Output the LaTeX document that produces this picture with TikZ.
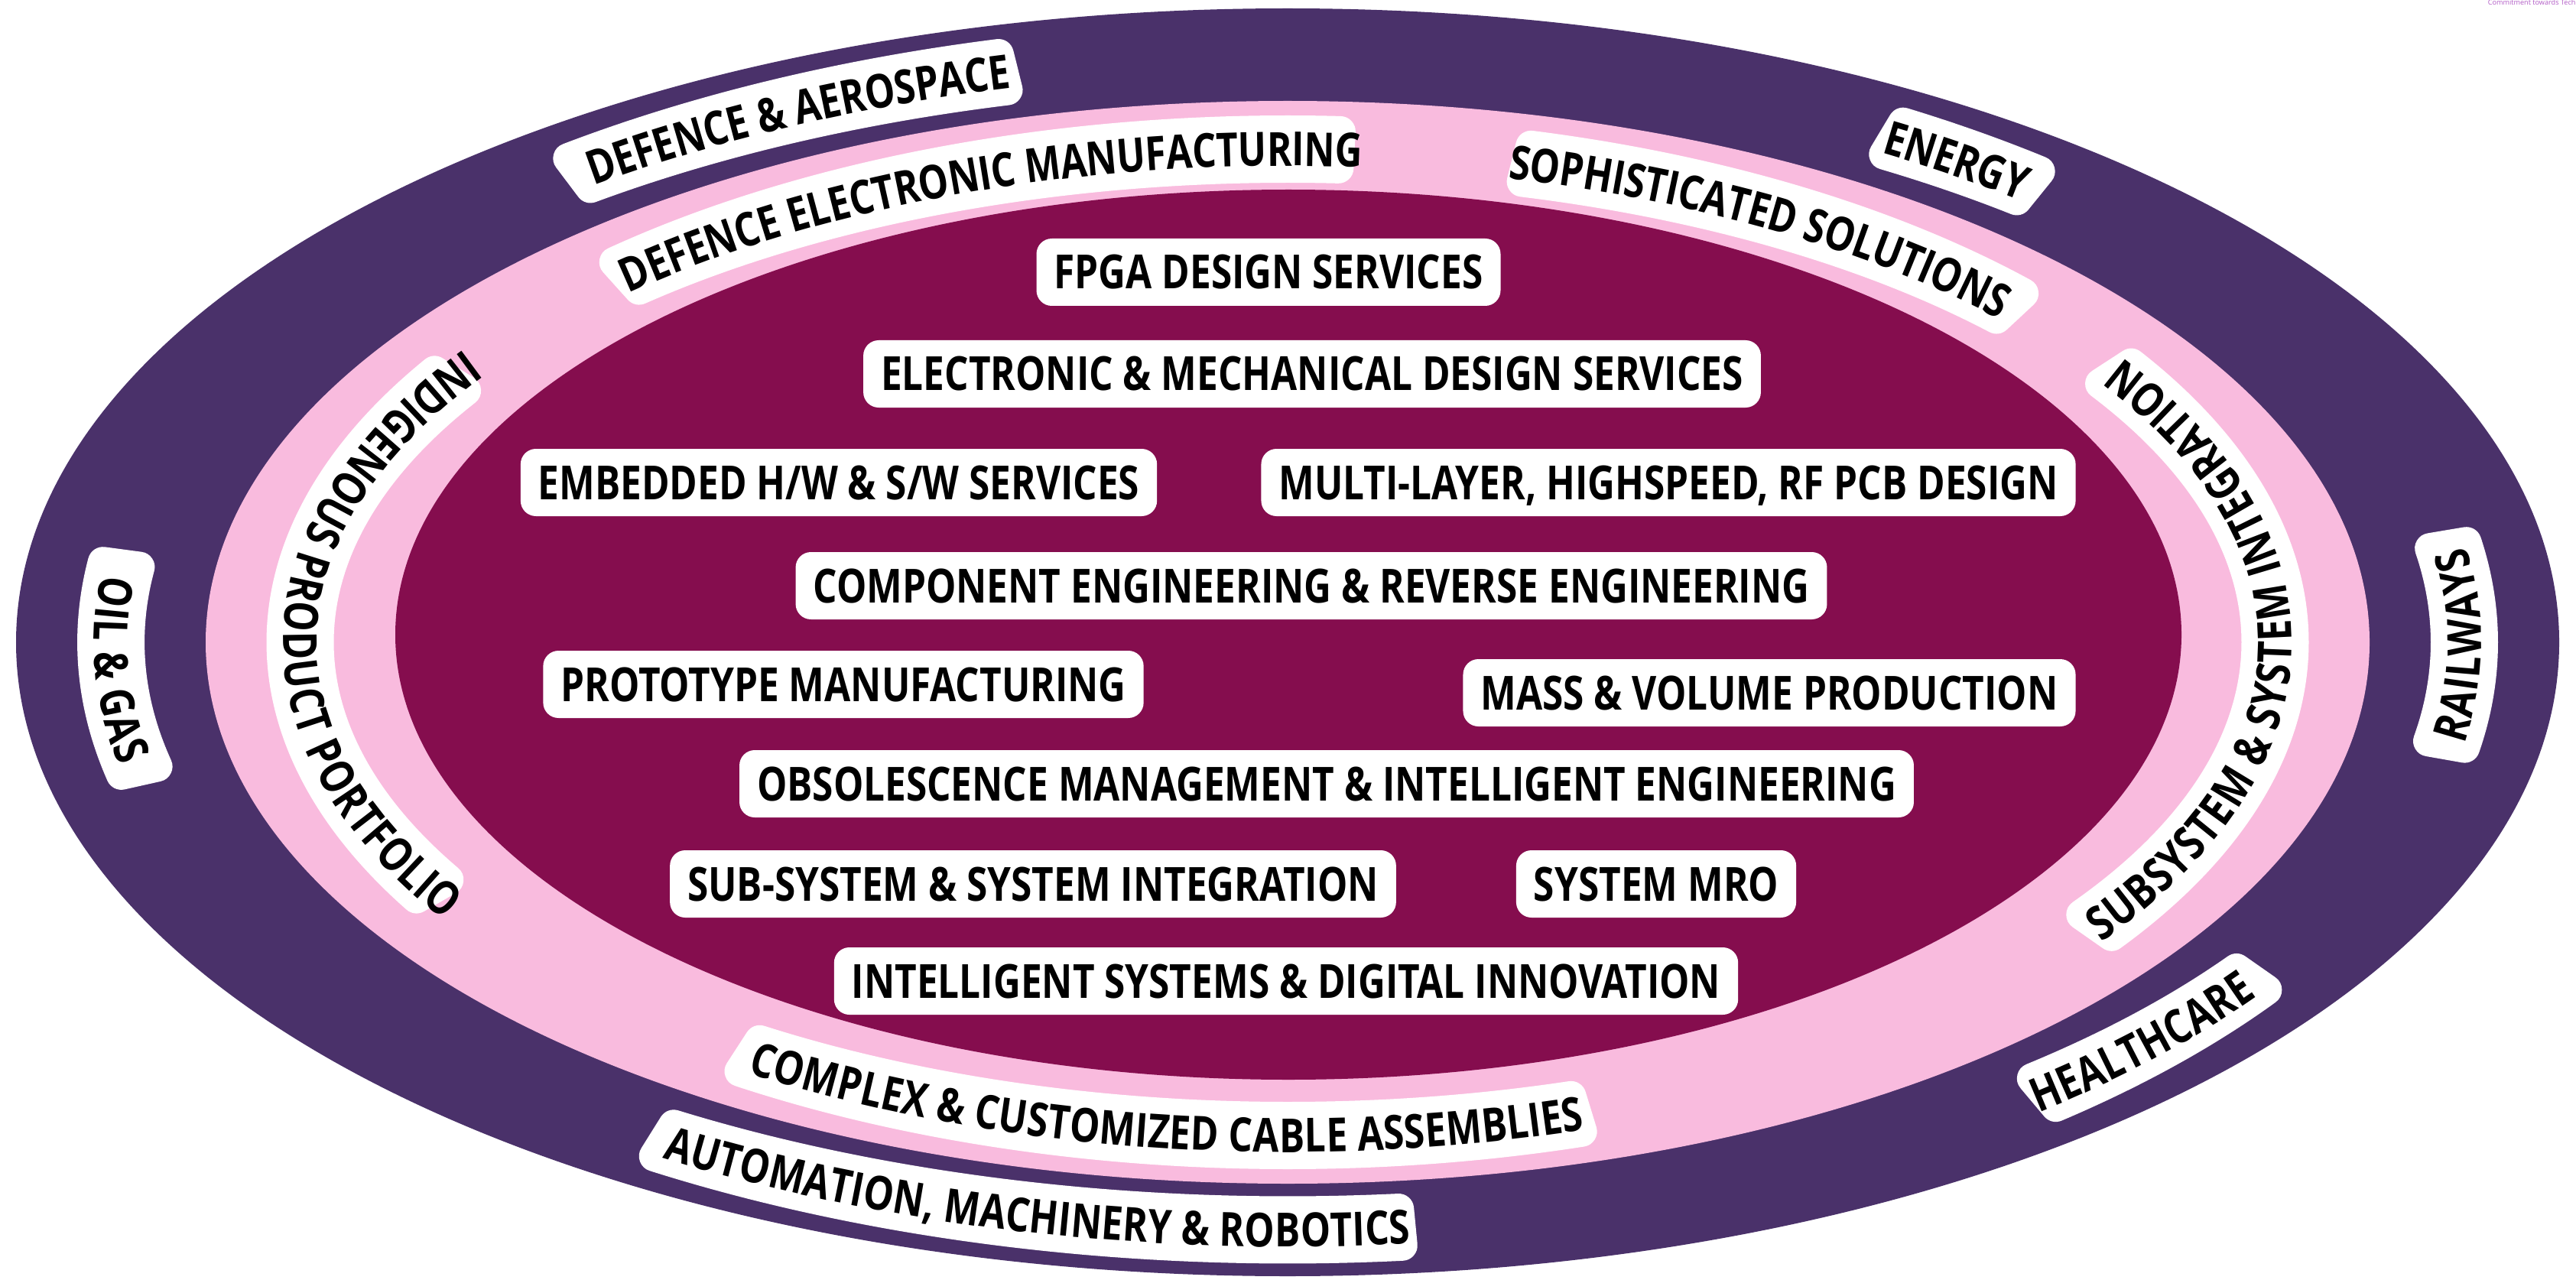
\documentclass[tikz,border=0pt]{standalone}
\usepackage{fontspec}
\usepackage{xcolor}
\usepackage{tikz}
\usetikzlibrary{calc,decorations.text}

\newfontfamily\labfamily{Open Sans}[FakeStretch=0.805]
\newfontfamily\tagfamily{Open Sans}
\newcommand{\labfont}{\labfamily\bfseries\fontsize{17.5}{20}\selectfont}

\definecolor{ringpurple}{RGB}{74,49,106}
\definecolor{ringpink}{RGB}{249,187,222}
\definecolor{ringmagenta}{RGB}{133,13,78}
\definecolor{tagpurple}{RGB}{178,92,198}

\tikzset{
  svc/.style={fill=white, rounded corners=0.2cm, inner xsep=0.23cm, inner ysep=0.22cm,
    text height=0.44cm, text depth=0cm, font=\labfont},
  labband/.style={fill=white, draw=white, line width=0.4cm, line join=round},
}

% white curved tag on a ring: x radius, y radius, from angle, to angle, text
\newcommand{\ringlabel}[5]{%
  \pgfmathsetmacro{\rao}{#1+0.24}\pgfmathsetmacro{\rbo}{#2+0.24}%
  \pgfmathsetmacro{\rai}{#1-0.24}\pgfmathsetmacro{\rbi}{#2-0.24}%
  \pgfmathsetmacro{\tsa}{#3-5*sign(#4-#3)}\pgfmathsetmacro{\tsb}{#4+5*sign(#4-#3)}%
  \filldraw[labband] ({\rao*cos(#3)},{\rbo*sin(#3)})
    arc[start angle=#3, end angle=#4, x radius=\rao cm, y radius=\rbo cm]
    -- ({\rai*cos(#4)},{\rbi*sin(#4)})
    arc[start angle=#4, end angle=#3, x radius=\rai cm, y radius=\rbi cm] -- cycle;
  \path[decorate, decoration={text along path, text align=center, raise=-0.22cm,
      text={|\labfont|#5}}]
    ({#1*cos(\tsa)},{#2*sin(\tsa)})
    arc[start angle=\tsa, end angle=\tsb, x radius=#1cm, y radius=#2cm];
}

\begin{document}
\begin{tikzpicture}
  \useasboundingbox (0,0) rectangle (33.69,16.73);
  \coordinate (C) at (16.84,8.33);
  \coordinate (Cin) at (16.85,8.43);

  % rings
  \fill[ringpurple] (C) ellipse [x radius=16.63cm, y radius=8.29cm];
  \fill[ringpink] (C) ellipse [x radius=14.15cm, y radius=7.08cm];
  \fill[ringmagenta] (Cin) ellipse [x radius=11.68cm, y radius=5.82cm];

  % outer and middle ring tags
  \begin{scope}[shift={(C)}]
    \ringlabel{15.39}{7.685}{127}{104}{DEFENCE {\&} AEROSPACE}
    \ringlabel{15.39}{7.685}{59}{51}{ENERGY}
    \ringlabel{15.39}{7.685}{-10}{9.5}{RAILWAYS}
    \ringlabel{15.39}{7.685}{-50}{-35}{HEALTHCARE}
    \ringlabel{15.39}{7.685}{238}{275.5}{AUTOMATION, MACHINERY {\&} ROBOTICS}
    \ringlabel{15.39}{7.685}{172.4}{192.6}{OIL {\&} GAS}
    \ringlabel{12.915}{6.45}{132}{87}{DEFENCE ELECTRONIC MANUFACTURING}
    \ringlabel{12.915}{6.45}{76}{43}{SOPHISTICATED SOLUTIONS}
    \ringlabel{12.915}{6.45}{-35}{33}{SUBSYSTEM {\&} SYSTEM INTEGRATION}
    \ringlabel{12.915}{6.45}{237}{287}{COMPLEX {\&} CUSTOMIZED CABLE ASSEMBLIES}
    \ringlabel{12.915}{6.45}{148}{210}{INDIGENOUS PRODUCT PORTFOLIO}
  \end{scope}

  % services
  \node[svc] (fpga) at (16.59,13.17) {FPGA DESIGN SERVICES};
  \node[svc] (elmech) at (17.16,11.84) {ELECTRONIC \& MECHANICAL DESIGN SERVICES};
  \node[svc] (embed) at (10.97,10.42) {EMBEDDED H/W \& S/W SERVICES};
  \node[svc] (pcb) at (21.82,10.42) {MULTI-LAYER, HIGHSPEED, RF PCB DESIGN};
  \node[svc] (compeng) at (17.15,9.07) {COMPONENT ENGINEERING \& REVERSE ENGINEERING};
  \node[svc] (proto) at (11.03,7.78) {PROTOTYPE MANUFACTURING};
  \node[svc] (mass) at (23.14,7.67) {MASS \& VOLUME PRODUCTION};
  \node[svc] (obso) at (17.35,6.48) {OBSOLESCENCE MANAGEMENT \& INTELLIGENT ENGINEERING};
  \node[svc] (subsys) at (13.51,5.17) {SUB-SYSTEM \& SYSTEM INTEGRATION};
  \node[svc] (mro) at (21.66,5.17) {SYSTEM MRO};
  \node[svc] (intsys) at (16.82,3.90) {INTELLIGENT SYSTEMS \& DIGITAL INNOVATION};

  \node[anchor=base west, inner sep=0pt, text=tagpurple,
    font=\tagfamily\fontsize{2.6}{3}\selectfont] (tagline) at (32.53,16.66) {Commitment towards Technology};
\end{tikzpicture}
\end{document}
